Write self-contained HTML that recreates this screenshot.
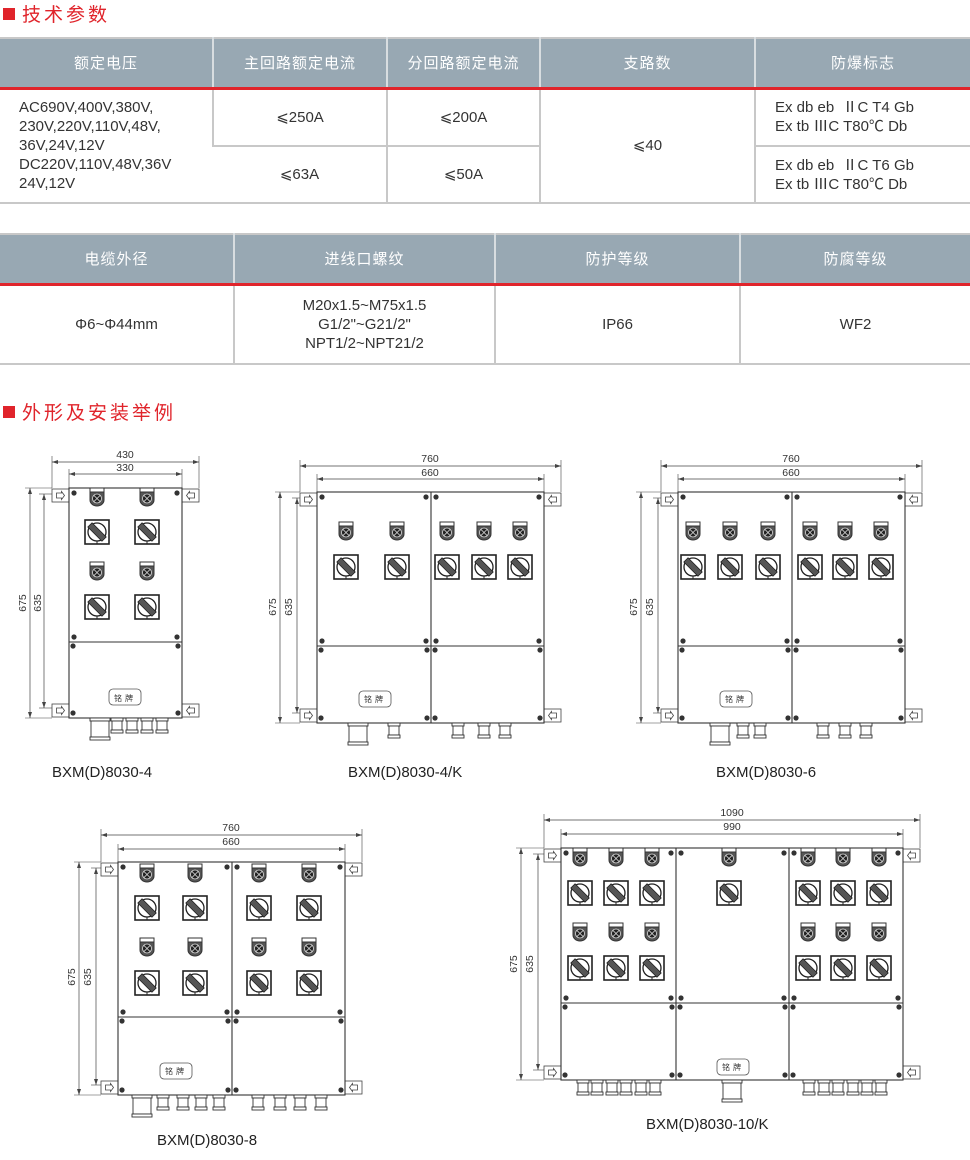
<!DOCTYPE html>
<html><head><meta charset="utf-8">
<style>
*{margin:0;padding:0;box-sizing:border-box}
body{width:970px;height:1160px;background:#fff;position:relative;overflow:hidden;font-family:"Liberation Sans","Noto Sans CJK SC",sans-serif;color:#333}
.title{position:absolute;left:3px;font-size:19px;color:#e0242b;letter-spacing:3px;line-height:22px}
.title span{display:inline-block;width:12px;height:12px;background:#e0242b;margin-right:7px;vertical-align:1px}
table{position:absolute;left:0;width:970px;border-collapse:collapse;font-size:15px}
th{background:#98a8b3;color:#fff;font-weight:normal;height:50px;border-left:2px solid #d8dde0;border-bottom:3px solid #e0242b;letter-spacing:1px}
th:first-child,td:first-child{border-left:none}
td{text-align:center;border-left:2px solid #c8c8c8;border-top:2px solid #c8c8c8;color:#333;line-height:19px}
table{border-top:2px solid #c8c8c8;border-bottom:2px solid #c8c8c8}
svg{position:absolute;left:0;top:0}
.cap{position:absolute;font-size:15px;color:#222}
</style></head><body>
<div class="title" style="top:5px"><span></span>技术参数</div>
<table style="top:37px">
<colgroup><col style="width:213px"><col style="width:174px"><col style="width:153px"><col style="width:215px"><col style="width:215px"></colgroup>
<tr><th>额定电压</th><th>主回路额定电流</th><th>分回路额定电流</th><th>支路数</th><th>防爆标志</th></tr>
<tr style="height:58px"><td rowspan="2" style="text-align:left;padding-left:19px;border-top:none">AC690V,400V,380V,<br>230V,220V,110V,48V,<br>36V,24V,12V<br>DC220V,110V,48V,36V<br>24V,12V</td><td style="border-top:none">⩽250A</td><td style="border-top:none">⩽200A</td><td rowspan="2" style="border-top:none">⩽40</td><td style="text-align:left;padding-left:19px;border-top:none">Ex db eb &nbsp;ⅡC T4 Gb<br>Ex tb ⅢC T80℃ Db</td></tr>
<tr style="height:57px"><td>⩽63A</td><td>⩽50A</td><td style="text-align:left;padding-left:19px">Ex db eb &nbsp;ⅡC T6 Gb<br>Ex tb ⅢC T80℃ Db</td></tr>
</table>
<table style="top:233px">
<colgroup><col style="width:234px"><col style="width:261px"><col style="width:245px"><col style="width:230px"></colgroup>
<tr><th>电缆外径</th><th>进线口螺纹</th><th>防护等级</th><th>防腐等级</th></tr>
<tr style="height:80px"><td style="border-top:none">Φ6~Φ44mm</td><td style="border-top:none">M20x1.5~M75x1.5<br>G1/2"~G21/2"<br>NPT1/2~NPT21/2</td><td style="border-top:none">IP66</td><td style="border-top:none">WF2</td></tr>
</table>
<div class="title" style="top:403px"><span></span>外形及安装举例</div>

<svg id="s" width="970" height="1160" font-family="Liberation Sans, sans-serif" font-size="10.5" fill="#333">
<g id="g"></g>
<text x="125" y="458" text-anchor="middle">430</text>
<text x="125" y="471" text-anchor="middle">330</text>
<text transform="translate(26,603) rotate(-90)" text-anchor="middle">675</text>
<text transform="translate(41,603) rotate(-90)" text-anchor="middle">635</text>
<text x="430" y="462" text-anchor="middle">760</text>
<text x="430" y="476" text-anchor="middle">660</text>
<text transform="translate(276,607) rotate(-90)" text-anchor="middle">675</text>
<text transform="translate(292,607) rotate(-90)" text-anchor="middle">635</text>
<text x="791" y="462" text-anchor="middle">760</text>
<text x="791" y="476" text-anchor="middle">660</text>
<text transform="translate(637,607) rotate(-90)" text-anchor="middle">675</text>
<text transform="translate(653,607) rotate(-90)" text-anchor="middle">635</text>
<text x="231" y="831" text-anchor="middle">760</text>
<text x="231" y="845" text-anchor="middle">660</text>
<text transform="translate(75,977) rotate(-90)" text-anchor="middle">675</text>
<text transform="translate(91,977) rotate(-90)" text-anchor="middle">635</text>
<text x="732" y="816" text-anchor="middle">1090</text>
<text x="732" y="830" text-anchor="middle">990</text>
<text transform="translate(517,964) rotate(-90)" text-anchor="middle">675</text>
<text transform="translate(533,964) rotate(-90)" text-anchor="middle">635</text>
<text x="125" y="701" text-anchor="middle" font-size="8" font-family="Noto Sans CJK SC, sans-serif" letter-spacing="3">铭牌</text>
<text x="375" y="702" text-anchor="middle" font-size="8" font-family="Noto Sans CJK SC, sans-serif" letter-spacing="3">铭牌</text>
<text x="736" y="702" text-anchor="middle" font-size="8" font-family="Noto Sans CJK SC, sans-serif" letter-spacing="3">铭牌</text>
<text x="176" y="1074" text-anchor="middle" font-size="8" font-family="Noto Sans CJK SC, sans-serif" letter-spacing="3">铭牌</text>
<text x="733" y="1070" text-anchor="middle" font-size="8" font-family="Noto Sans CJK SC, sans-serif" letter-spacing="3">铭牌</text>
</svg>
<div class="cap" style="left:52px;top:764px">BXM(D)8030-4</div>
<div class="cap" style="left:348px;top:764px">BXM(D)8030-4/K</div>
<div class="cap" style="left:716px;top:764px">BXM(D)8030-6</div>
<div class="cap" style="left:157px;top:1132px">BXM(D)8030-8</div>
<div class="cap" style="left:646px;top:1116px">BXM(D)8030-10/K</div>
<script>
var NS="http://www.w3.org/2000/svg",G=document.getElementById("g");
function el(t,a){var e=document.createElementNS(NS,t);for(var k in a)e.setAttribute(k,a[k]);G.appendChild(e);return e;}
function ln(x1,y1,x2,y2,w,c){el("line",{x1:x1,y1:y1,x2:x2,y2:y2,stroke:c||"#444","stroke-width":w||0.8});}
function arrowH(x1,x2,y){ln(x1,y,x2,y,0.7);el("path",{d:"M"+x1+" "+y+"l6 -2v4z",fill:"#444"});el("path",{d:"M"+x2+" "+y+"l-6 -2v4z",fill:"#444"});}
function arrowV(x,y1,y2){ln(x,y1,x,y2,0.7);el("path",{d:"M"+x+" "+y1+"l-2 6h4z",fill:"#444"});el("path",{d:"M"+x+" "+y2+"l-2 -6h4z",fill:"#444"});}
function light(cx,cy){el("rect",{x:cx-7,y:cy-10,width:14,height:4,fill:"#fff",stroke:"#333","stroke-width":1});
el("path",{d:"M"+(cx-7)+" "+(cy-6)+"h14v8a7 6 0 0 1 -14 0z",fill:"#555",stroke:"#333","stroke-width":1});
el("circle",{cx:cx,cy:cy+0.5,r:4.5,fill:"#222",stroke:"#ddd","stroke-width":0.8});
ln(cx-3,cy-2.5,cx+3,cy+3.5,0.8,"#ddd");ln(cx+3,cy-2.5,cx-3,cy+3.5,0.8,"#ddd");}
function sw(cx,cy){el("rect",{x:cx-12,y:cy-12,width:24,height:24,fill:"#fff",stroke:"#222","stroke-width":1.6});
el("circle",{cx:cx,cy:cy,r:9,fill:"#fff",stroke:"#222","stroke-width":1.3});
el("rect",{x:cx-10,y:cy-3,width:20,height:6,fill:"#555",stroke:"#222","stroke-width":0.8,transform:"rotate(45 "+cx+" "+cy+")"});
ln(cx,cy+9,cx,cy+12,1,"#222");}
function screw(x,y){el("circle",{cx:x,cy:y,r:2.6,fill:"#333"});}
function bracket(x,y,left){el("rect",{x:x,y:y,width:17,height:13,fill:"#fff",stroke:"#444","stroke-width":0.8});
var c=x+8.5,m=y+6.5;el("path",{d:left?"M"+(c-4)+" "+(m-2.5)+"h5v-1.5l3 4 -3 4v-1.5h-5z":"M"+(c+4)+" "+(m-2.5)+"h-5v-1.5l-3 4 3 4v-1.5h5z",fill:"none",stroke:"#444","stroke-width":0.8});}
function gland(cx,y,big){var w=big?20:12,h=big?22:15;el("rect",{x:cx-w/2,y:y,width:w,height:3,fill:"#fff",stroke:"#333","stroke-width":0.9});
el("rect",{x:cx-w/2+1,y:y+3,width:w-2,height:h-6,fill:"#fff",stroke:"#333","stroke-width":0.9});
el("rect",{x:cx-w/2,y:y+h-3,width:w,height:3,fill:"#fff",stroke:"#333","stroke-width":0.9});}
function plate(cx,cy){el("rect",{x:cx-16,y:cy-8,width:32,height:16,rx:4,fill:"#fff",stroke:"#555","stroke-width":0.8});}
function box(o){var x1=o.x1,x2=o.x2,y1=o.y1,y2=o.y2,h=o.h;
// dims
var bw=17;ln(x1-bw,o.d1-6,x1-bw,y1,0.6);ln(x2+bw,o.d1-6,x2+bw,y1,0.6);ln(x1,o.d2-5,x1,y1,0.6);ln(x2,o.d2-5,x2,y1,0.6);
arrowH(x1-bw,x2+bw,o.d1);arrowH(x1,x2,o.d2);
ln(o.v1-5,y1,x1-bw,y1,0.6);ln(o.v1-5,y2,x1-bw,y2,0.6);ln(o.v2-5,y1+6,x1-bw,y1+6,0.6);ln(o.v2-5,y2-10,x1-bw,y2-10,0.6);
arrowV(o.v1,y1,y2);arrowV(o.v2,y1+6,y2-10);
bracket(x1-bw,y1+1,1);bracket(x2,y1+1,0);bracket(x1-bw,y2-14,1);bracket(x2,y2-14,0);
el("rect",{x:x1,y:y1,width:x2-x1,height:y2-y1,fill:"#fff",stroke:"#333","stroke-width":1.1});
ln(x1,h,x2,h,1.1,"#333");
var xs=[x1].concat(o.vd||[]).concat([x2]);
for(var i=0;i<xs.length;i++){if(i>0&&i<xs.length-1)ln(xs[i],y1,xs[i],y2,1.1,"#333");}
for(var i=0;i<xs.length-1;i++){var a=xs[i]+5,b=xs[i+1]-5;screw(a,y1+5);screw(b,y1+5);screw(a,h-5);screw(b,h-5);screw(a-1,h+4);screw(b+1,h+4);screw(a-1,y2-5);screw(b+1,y2-5);}
(o.L||[]).forEach(function(p){light(p[0],p[1]);});
(o.S||[]).forEach(function(p){sw(p[0],p[1]);});
plate(o.p[0],o.p[1]);
(o.g||[]).forEach(function(p){gland(p,y2,0);});
(o.G||[]).forEach(function(p){gland(p,y2,1);});}
function grid(cols,ys){var r=[];cols.forEach(function(c){ys.forEach(function(y){r.push([c,y]);});});return r;}
box({x1:69,x2:182,y1:488,y2:718,h:642,d1:462,d2:474,v1:30,v2:44,L:grid([97,147],[498,572]),S:grid([97,147],[532,607]),p:[125,697],G:[100],g:[117,132,147,162]});
box({x1:317,x2:544,y1:492,y2:723,h:646,vd:[431],d1:466,d2:479,v1:280,v2:297,L:grid([346,397,447,484,520],[532]),S:grid([346,397,447,484,520],[567]),p:[375,699],G:[358],g:[394,458,484,505]});
box({x1:678,x2:905,y1:492,y2:723,h:646,vd:[792],d1:466,d2:479,v1:641,v2:658,L:grid([693,730,768,810,845,881],[532]),S:grid([693,730,768,810,845,881],[567]),p:[736,699],G:[720],g:[743,760,823,845,866]});
box({x1:118,x2:345,y1:862,y2:1095,h:1017,vd:[232],d1:835,d2:849,v1:79,v2:96,L:grid([147,195,259,309],[874,948]),S:grid([147,195,259,309],[908,983]),p:[176,1071],G:[142],g:[163,183,201,219,258,280,300,321]});
box({x1:561,x2:903,y1:848,y2:1080,h:1003,vd:[676,789],d1:820,d2:834,v1:521,v2:538,L:grid([580,616,652,808,843,879],[858,933]).concat([[729,858]]),S:grid([580,616,652,808,843,879],[893,968]).concat([[729,893]]),p:[733,1067],G:[732],g:[583,597,612,626,641,655,809,824,838,853,867,881]});
</script>
</body></html>
